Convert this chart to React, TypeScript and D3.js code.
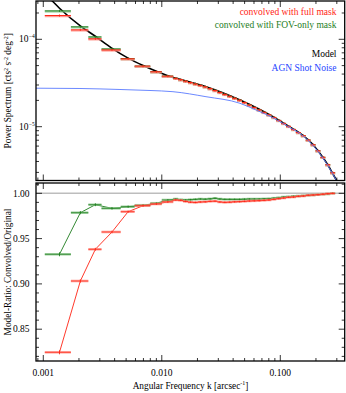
import * as d3 from "d3";

// k bin edges [arcsec^-1]
const kEdges = [
  0.00103, 0.00171, 0.0024, 0.0031, 0.0045, 0.0059, 0.008, 0.01, 0.0125,
  0.01375, 0.01513, 0.01664, 0.0183, 0.02013, 0.02214, 0.02436, 0.0268, 0.02948,
  0.03242, 0.03567, 0.03923, 0.04316, 0.04747, 0.05222, 0.05744, 0.06319, 0.0695,
  0.07645, 0.0841, 0.09251, 0.1018, 0.1119, 0.1231, 0.1354, 0.149, 0.1639,
  0.1803, 0.1983, 0.2181, 0.24, 0.264, 0.2904,
];

// convolved power spectra (per bin)
const fullMaskPower = [
  1.87e-4, 1.283e-4, 1.013e-4, 7.56e-5, 5.98e-5, 4.94e-5, 4.25e-5, 3.79e-5,
  3.58e-5, 3.45e-5, 3.321e-5, 3.198e-5, 3.081e-5, 2.971e-5, 2.857e-5, 2.726e-5, 2.593e-5, 2.464e-5,
  2.342e-5, 2.229e-5, 2.116e-5, 2.012e-5, 1.89e-5, 1.77e-5, 1.657e-5, 1.556e-5, 1.458e-5, 1.365e-5,
  1.275e-5, 1.18e-5, 1.09e-5, 1.009e-5, 9.3e-6, 8.58e-6, 7.89e-6, 7.04e-6, 6.21e-6, 5.3e-6,
  4.47e-6, 3.67e-6, 2.97e-6,
];
const fovMaskPower = [
  2.115e-4, 1.39e-4, 1.066e-4, 7.77e-5, 6.01e-5, 4.94e-5, 4.25e-5, 3.8e-5,
  3.584e-5, 3.453e-5, 3.326e-5, 3.207e-5, 3.091e-5, 2.981e-5, 2.865e-5, 2.733e-5, 2.602e-5, 2.472e-5,
  2.35e-5, 2.236e-5, 2.122e-5, 2.017e-5, 1.895e-5, 1.774e-5, 1.66e-5, 1.559e-5, 1.46e-5, 1.367e-5,
  1.277e-5, 1.181e-5, 1.092e-5, 1.009e-5, 9.31e-6, 8.58e-6, 7.89e-6, 7.04e-6, 6.21e-6, 5.3e-6,
  4.47e-6, 3.67e-6, 2.97e-6,
];

// convolved / original
const fullMaskRatio = [
  0.8245, 0.9032, 0.9382, 0.9573, 0.9797, 0.9863, 0.9882, 0.9905,
  0.9926, 0.9922, 0.991, 0.9902, 0.9899, 0.9904, 0.9906, 0.9911, 0.9913, 0.9904,
  0.99, 0.9902, 0.9906, 0.9908, 0.9911, 0.9915, 0.9917, 0.9919, 0.9922, 0.9926,
  0.9933, 0.9941, 0.9948, 0.9956, 0.9959, 0.9967, 0.997, 0.9978, 0.9981, 0.9985,
  0.999, 0.9996, 0.9999,
];
const fovMaskRatio = [
  0.9327, 0.9786, 0.9874, 0.9834, 0.9852, 0.9868, 0.989, 0.9926,
  0.9937, 0.993, 0.9926, 0.993, 0.9933, 0.9937, 0.9935, 0.9939, 0.9945, 0.9937,
  0.9933, 0.9933, 0.9933, 0.9933, 0.9935, 0.9937, 0.9937, 0.9937, 0.9939, 0.9941,
  0.9946, 0.9952, 0.9959, 0.9963, 0.9967, 0.997, 0.9974, 0.9978, 0.9981, 0.9985,
  0.9989, 0.9992, 1.0,
];
const ratioErr = [
  0.0022, 0.0018, 0.0016, 0.0014, 0.0012, 0.0011, 0.001, 0.001,
  0.0008, 0.0008, 0.0008, 0.0008, 0.0008, 0.0008, 0.0008, 0.0008, 0.0008, 0.0008,
  0.0008, 0.0008, 0.0008, 0.0008, 0.0008, 0.0008, 0.0008, 0.0008, 0.0008, 0.0008,
  0.0008, 0.0008, 0.0008, 0.0008, 0.0008, 0.0008, 0.0008, 0.0008, 0.0008, 0.0008,
  0.0008, 0.0008, 0.0008,
];
const POWER_REL_ERR = 0.03;

// model curve
const modelK = [
  0.001033, 0.001191, 0.00137, 0.00208, 0.002768, 0.003726, 0.005156, 0.006954, 0.009004,
  0.011233, 0.0173, 0.0236, 0.0457, 0.08679, 0.1128, 0.1579, 0.1851, 0.2101, 0.2315,
  0.2551, 0.2811, 0.301,
];
const modelPower = [
  3.325e-4, 2.743e-4, 2.268e-4, 1.408e-4, 1.076e-4, 8.035e-5, 6.127e-5, 5.013e-5, 4.304e-5,
  3.833e-5, 3.238e-5, 2.869e-5, 2.02e-5, 1.301e-5, 1.046e-5, 7.826e-6, 6.424e-6, 5.203e-6, 4.349e-6,
  3.551e-6, 2.802e-6, 2.391e-6,
];

// AGN shot noise
const shotK = [
  0.000868, 0.00204, 0.004438, 0.007954, 0.01243, 0.0236, 0.0457, 0.06322, 0.08679,
  0.1128, 0.1579, 0.2101, 0.2551, 0.301,
];
const shotPower = [
  2.758e-5, 2.736e-5, 2.665e-5, 2.596e-5, 2.515e-5, 2.204e-5, 1.852e-5, 1.54e-5, 1.265e-5,
  1.032e-5, 7.724e-6, 5.135e-6, 3.504e-6, 2.36e-6,
];

const kTicks = [0.001, 0.01, 0.1];
const kTickLabels = ["0.001", "0.010", "0.100"];
const powerTicks = [1e-4, 1e-5];
const powerTickExp = ["\u22124", "\u22125"];
const ratioTicks = [0.85, 0.9, 0.95, 1.0];
const ratioTickLabels = ["0.85", "0.90", "0.95", "1.00"];

const W = 346, H = 393;
const L = 36, R = 344.7;
const TOP = { y0: 1, y1: 180.5 };
const BOT = { y0: 183, y1: 361 };

const RED = "#ff2414", RED_LIGHT = "#ff8a80";
const GREEN = "#1e7d1e", GREEN_LIGHT = "#86c486";
const BLUE = "#2646ff", BLUE_LINE = "#5a7bff";
const FONT = "'Liberation Serif', 'Times New Roman', 'DejaVu Serif', serif";

const x = d3.scaleLog().domain([0.000868, 0.3496]).range([L, R]);
const yP = d3.scaleLog().domain([2.423e-6, 2.743e-4]).range([TOP.y1, TOP.y0]);
const yR = d3.scaleLinear().domain([0.8149, 1.01137]).range([BOT.y1, BOT.y0]);

function logTicks(lo: number, hi: number) {
  const out: { v: number; major: boolean }[] = [];
  for (let e = Math.floor(Math.log10(lo)); e <= Math.ceil(Math.log10(hi)); e++)
    for (let m = 1; m < 10; m++) {
      const v = m * Math.pow(10, e);
      if (v >= lo && v <= hi) out.push({ v, major: m === 1 });
    }
  return out;
}

const bins = kEdges.slice(1).map((hi, i) => ({ lo: kEdges[i], hi, k: (kEdges[i] + hi) / 2, i }));

function XTicks({ y0, y1 }: { y0: number; y1: number }) {
  return (
    <g stroke="#000" strokeWidth={0.8}>
      {logTicks(0.000868, 0.3496).map((t, j) => {
        const px = x(t.v), len = t.major ? 6 : 3;
        return (
          <g key={j}>
            <line x1={px} x2={px} y1={y1} y2={y1 - len} />
            <line x1={px} x2={px} y1={y0} y2={y0 + len} />
          </g>
        );
      })}
    </g>
  );
}

export default function App() {
  const line = d3.line<[number, number]>().curve(d3.curveMonotoneX);
  const modelPath = line(modelK.map((k, i) => [x(k), yP(modelPower[i])]));
  const shotPath = line(shotK.map((k, i) => [x(k), yP(shotPower[i])]));
  const ratioLine = d3.line<[number, number]>();
  const fullPath = ratioLine(bins.map(b => [x(b.k), yR(fullMaskRatio[b.i])]));
  const fovPath = ratioLine(bins.map(b => [x(b.k), yR(fovMaskRatio[b.i])]));

  const topBars = (vals: number[], color: string, light: string) =>
    bins.map(b => {
      const v = vals[b.i];
      return (
        <g key={b.i}>
          <line x1={x(b.lo)} x2={x(b.hi)} y1={yP(v) + 0.8} y2={yP(v) + 0.8} stroke={light} strokeWidth={1.8} opacity={0.8} />
          <line x1={x(b.lo)} x2={x(b.hi)} y1={yP(v)} y2={yP(v)} stroke={color} strokeWidth={1} />
          <line x1={x(b.k)} x2={x(b.k)} y1={yP(v * (1 - POWER_REL_ERR))} y2={yP(v * (1 + POWER_REL_ERR))} stroke={color} strokeWidth={0.8} />
        </g>
      );
    });

  const botBars = (vals: number[], color: string, light: string) =>
    bins.map(b => {
      const v = vals[b.i];
      return (
        <g key={b.i}>
          <line x1={x(b.lo)} x2={x(b.hi)} y1={yR(v)} y2={yR(v)} stroke={light} strokeWidth={2.6} opacity={0.7} />
          <line x1={x(b.lo)} x2={x(b.hi)} y1={yR(v)} y2={yR(v)} stroke={color} strokeWidth={0.8} />
          <line x1={x(b.k)} x2={x(b.k)} y1={yR(v - ratioErr[b.i])} y2={yR(v + ratioErr[b.i])} stroke={color} strokeWidth={0.9} />
        </g>
      );
    });

  const pMinor = logTicks(2.423e-6, 2.743e-4);
  const rMinor = d3.range(82, 102).map(d => d / 100);

  return (
    <svg width={W} height={H} style={{ position: "absolute", left: 0, top: 0, background: "#fff", fontFamily: FONT }}>
      <defs>
        <clipPath id="clipTop"><rect x={L} y={TOP.y0} width={R - L} height={TOP.y1 - TOP.y0} /></clipPath>
        <clipPath id="clipBot"><rect x={L} y={BOT.y0} width={R - L} height={BOT.y1 - BOT.y0} /></clipPath>
      </defs>

      {/* top panel */}
      <g clipPath="url(#clipTop)">
        <path d={modelPath ?? ""} fill="none" stroke="#000" strokeWidth={1.6} />
        {topBars(fovMaskPower, GREEN, GREEN_LIGHT)}
        {topBars(fullMaskPower, RED, RED_LIGHT)}
        <path d={shotPath ?? ""} fill="none" stroke={BLUE_LINE} strokeWidth={0.9} />
      </g>
      <XTicks y0={TOP.y0} y1={TOP.y1} />
      <g stroke="#000" strokeWidth={0.8}>
        {pMinor.map((t, j) => {
          const py = yP(t.v), len = t.major ? 6 : 3;
          return (
            <g key={j}>
              <line x1={L} x2={L + len} y1={py} y2={py} />
              <line x1={R} x2={R - len} y1={py} y2={py} />
            </g>
          );
        })}
      </g>
      <rect x={L} y={TOP.y0} width={R - L} height={TOP.y1 - TOP.y0} fill="none" stroke="#000" strokeWidth={1.3} />
      {powerTicks.map((v, i) => (
        <g key={i} fontSize={9.5}>
          <text x={28.6} y={yP(v) + 3.2} textAnchor="end">10</text>
          <text x={28.8} y={yP(v) - 0.8} fontSize={5.5}>{powerTickExp[i]}</text>
        </g>
      ))}
      <text transform={`translate(11.3,${(TOP.y0 + TOP.y1) / 2}) rotate(-90)`} textAnchor="middle" fontSize={9.3}>
        Power Spectrum [cts<tspan dy={-3.5} fontSize={6}>2</tspan><tspan dy={3.5}> s</tspan>
        <tspan dy={-3.5} fontSize={6}>-2</tspan><tspan dy={3.5}> deg</tspan><tspan dy={-3.5} fontSize={6}>-2</tspan>
        <tspan dy={3.5}>]</tspan>
      </text>

      {/* legend */}
      <g fontSize={9.5} textAnchor="end">
        <text x={336.5} y={14.6} fill={RED}>convolved with full mask</text>
        <text x={336.5} y={28.2} fill={GREEN}>convolved with FOV-only mask</text>
        <text x={336.5} y={56.6} fill="#000">Model</text>
        <text x={336.5} y={71.4} fill={BLUE}>AGN Shot Noise</text>
      </g>

      {/* bottom panel */}
      <g clipPath="url(#clipBot)">
        <line x1={L} x2={R} y1={yR(1)} y2={yR(1)} stroke="#bdbdbd" strokeWidth={1.5} />
        <path d={fovPath ?? ""} fill="none" stroke={GREEN} strokeWidth={0.9} />
        {botBars(fovMaskRatio, GREEN, GREEN_LIGHT)}
        <path d={fullPath ?? ""} fill="none" stroke={RED} strokeWidth={0.9} />
        {botBars(fullMaskRatio, RED, RED_LIGHT)}
      </g>
      <XTicks y0={BOT.y0} y1={BOT.y1} />
      <g stroke="#000" strokeWidth={0.8}>
        {rMinor.map((v, j) => {
          const py = yR(v), major = Math.round(v * 100) % 5 === 0, len = major ? 6 : 3;
          return (
            <g key={j}>
              <line x1={L} x2={L + len} y1={py} y2={py} />
              <line x1={R} x2={R - len} y1={py} y2={py} />
            </g>
          );
        })}
      </g>
      <rect x={L} y={BOT.y0} width={R - L} height={BOT.y1 - BOT.y0} fill="none" stroke="#000" strokeWidth={1.3} />
      {ratioTicks.map((v, i) => (
        <text key={i} x={29.6} y={yR(v) + 3.3} textAnchor="end" fontSize={9.5}>{ratioTickLabels[i]}</text>
      ))}
      {kTicks.map((v, i) => (
        <text key={i} x={x(v)} y={376} textAnchor="middle" fontSize={9.5}>{kTickLabels[i]}</text>
      ))}
      <text transform={`translate(11.3,${(BOT.y0 + BOT.y1) / 2}) rotate(-90)`} textAnchor="middle" fontSize={9.3}>
        Model-Ratio: Convolved/Original
      </text>
      <text x={190.5} y={388.5} textAnchor="middle" fontSize={9.3}>
        Angular Frequency k [arcsec<tspan dy={-3.5} fontSize={6}>-1</tspan><tspan dy={3.5}>]</tspan>
      </text>
    </svg>
  );
}
